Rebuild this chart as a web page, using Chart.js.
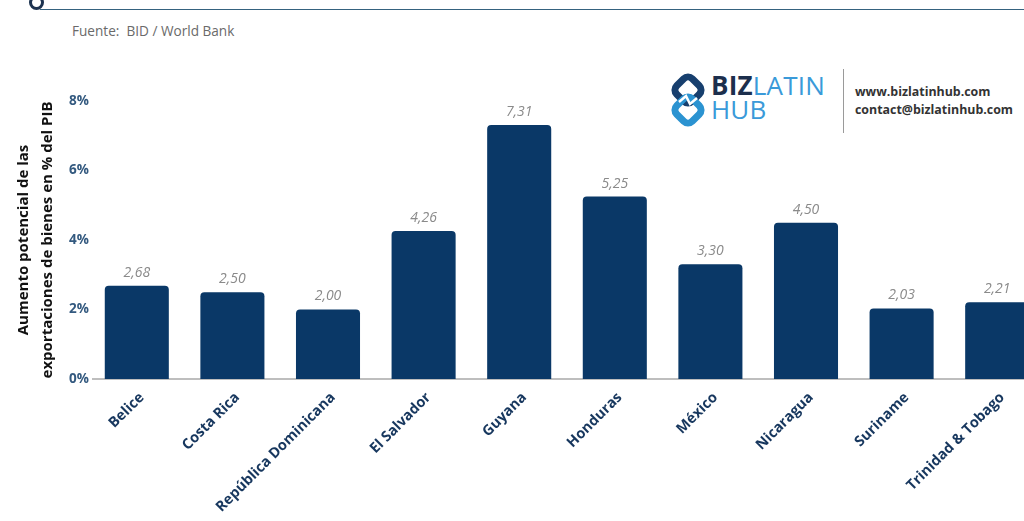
<!DOCTYPE html>
<html lang="es">
<head>
<meta charset="utf-8">
<script src="https://cdn.jsdelivr.net/npm/chart.js@4/dist/chart.umd.min.js"></script>
<style>
  html, body { margin: 0; padding: 0; background: #fff; overflow: hidden; }
  body { width: 1024px; height: 521px; position: relative; font-family: "Open Sans", sans-serif; }
  #wrap { position: absolute; left: 0; top: 0; width: 1050px; height: 521px; }
  .topline { position: absolute; left: 40px; top: 9px; width: 990px; height: 0; border-top: 1.5px solid #35627f; }
  .dot { position: absolute; left: 29px; top: -5px; width: 9px; height: 9px; border: 3px solid #1d3350; border-radius: 50%; }
  .fuente { position: absolute; left: 72px; top: 21px; font-size: 13.6px; color: #6a6a6a; }
  .logo { position: absolute; left: 666px; top: 72px; }
  .brand { position: absolute; left: 711px; top: 73px; font-size: 26px; line-height: 24px; letter-spacing: 0.2px; }
  .brand b { color: #1c2f4d; font-weight: 700; }
  .brand span { color: #3a9ad9; font-weight: 400; }
  .divider { position: absolute; left: 843px; top: 69px; width: 0; height: 64px; border-left: 1.5px solid #9a9a9a; }
  .contact { position: absolute; left: 855px; top: 83px; font-size: 12.4px; font-weight: 700; color: #333; line-height: 18px; }
</style>
</head>
<body>
<div class="dot"></div>
<div class="topline"></div>
<div class="fuente">Fuente:&nbsp; BID / World Bank</div>

<svg class="logo" width="44" height="56" viewBox="0 0 44 56">
  <rect x="11" y="7" width="22" height="22" rx="6" transform="rotate(45 22 18)" fill="none" stroke="#173f6e" stroke-width="7"/>
  <rect x="11" y="27" width="22" height="22" rx="6" transform="rotate(45 22 38)" fill="none" stroke="#2b93d1" stroke-width="7"/>
  <path d="M13 30 L20 24 L24 32 L31 26" fill="none" stroke="#fff" stroke-width="2.5"/>
</svg>
<div class="brand"><b>BIZ</b><span>LATIN</span><br><span>HUB</span></div>
<div class="divider"></div>
<div class="contact">www.bizlatinhub.com<br>contact@bizlatinhub.com</div>

<div id="wrap"><canvas id="grafico"></canvas></div>

<script>
const paises = ['Belice', 'Costa Rica', 'República Dominicana', 'El Salvador', 'Guyana',
  'Honduras', 'México', 'Nicaragua', 'Suriname', 'Trinidad & Tobago'];
const aumento = [2.68, 2.50, 2.00, 4.26, 7.31, 5.25, 3.30, 4.50, 2.03, 2.21];
const marcasY = [0, 2, 4, 6, 8];
const tituloY = ['Aumento potencial de las', 'exportaciones de bienes en % del PIB'];

const fmt = v => v.toFixed(2).replace('.', ',');

// etiquetas en cursiva sobre cada barra
const valoresBarras = {
  id: 'valoresBarras',
  afterDatasetsDraw(chart) {
    const ctx = chart.ctx;
    ctx.save();
    ctx.font = 'italic 14px "Open Sans"';
    ctx.fillStyle = '#8a8a8a';
    ctx.textAlign = 'center';
    ctx.textBaseline = 'bottom';
    chart.getDatasetMeta(0).data.forEach((bar, i) => {
      ctx.fillText(fmt(aumento[i]), bar.x, bar.y - 6);
    });
    ctx.restore();
  }
};

// línea base gris bajo las barras
const lineaBase = {
  id: 'lineaBase',
  beforeDatasetsDraw(chart) {
    const ctx = chart.ctx;
    const y0 = chart.scales.y.getPixelForValue(0);
    ctx.save();
    ctx.strokeStyle = '#a8a8a8';
    ctx.lineWidth = 1.5;
    ctx.beginPath();
    ctx.moveTo(92, y0);
    ctx.lineTo(chart.width, y0);
    ctx.stroke();
    ctx.restore();
  }
};

new Chart(document.getElementById('grafico'), {
  type: 'bar',
  data: {
    labels: paises,
    datasets: [{
      data: aumento,
      backgroundColor: '#0a3867',
      borderRadius: 4,
      borderSkipped: 'bottom',
      barPercentage: 0.67,
      categoryPercentage: 1
    }]
  },
  options: {
    responsive: true,
    maintainAspectRatio: false,
    animation: false,
    layout: { padding: { left: 0, right: 5, top: 101, bottom: 0 } },
    plugins: { legend: { display: false }, tooltip: { enabled: false } },
    scales: {
      x: {
        grid: { display: false, drawTicks: false },
        border: { display: false },
        afterFit: s => { s.height = 142; },
        ticks: {
          autoSkip: false,
          maxRotation: 45,
          minRotation: 45,
          padding: 10,
          labelOffset: 5,
          color: '#17375e',
          font: { family: 'Open Sans', size: 14.5, weight: 'bold' }
        }
      },
      y: {
        min: 0,
        max: 8,
        afterFit: s => { s.width = 89; },
        afterBuildTicks: s => { s.ticks = marcasY.map(v => ({ value: v })); },
        grid: { display: false, drawTicks: false },
        border: { display: false },
        ticks: {
          padding: 0,
          color: '#33597f',
          font: { family: 'Open Sans', size: 13.5, weight: 'bold' },
          callback: v => v + '%'
        },
        title: {
          display: true,
          text: tituloY,
          color: '#111',
          padding: { top: 12, bottom: 0 },
          font: { family: 'Open Sans', size: 15, weight: 'bold', lineHeight: 1.6 }
        }
      }
    }
  },
  plugins: [lineaBase, valoresBarras]
});
</script>
</body>
</html>
